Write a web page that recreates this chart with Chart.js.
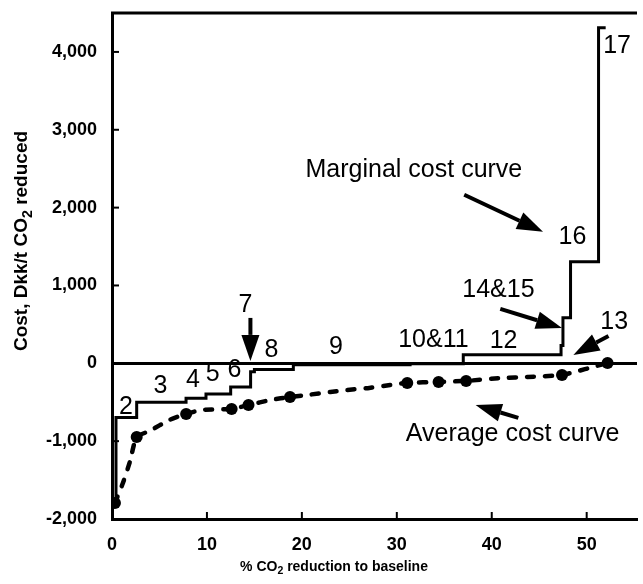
<!DOCTYPE html>
<html>
<head>
<meta charset="utf-8">
<script src="https://cdn.jsdelivr.net/npm/chart.js@4.4.1/dist/chart.umd.min.js"></script>
<style>
  html, body { margin: 0; padding: 0; background: #fff; }
  #wrap { width: 643px; height: 584px; position: relative; }
</style>
</head>
<body>
<div id="wrap"><canvas id="costChart"></canvas></div>
<script>
// Measures sorted by cost: where each one ends (cumulative % reduction) and its marginal cost
const measureLabels = ['1', '2', '3', '4', '5', '6', '7', '8', '9', '10&11', '12', '13', '14&15', '16', '17'];
const measureEnd = [0.42, 2.6, 7.8, 9.9, 12.5, 14.6, 15.0, 19.1, 31.4, 37.0, 47.3, 47.5, 48.3, 51.25, 52.0];
const marginalCost = [-1800, -695, -500, -450, -395, -305, -110, -80, -20, -5, 110, 230, 585, 1305, 4310];

// Average cost curve
const avgReduction = [0.31, 1.15, 1.88, 2.6, 3.96, 6.04, 7.81, 9.48, 12.6, 14.38, 16.77, 18.75, 20.6, 23.0, 24.8, 27.1, 29.3, 31.1, 34.4, 37.3, 41.1, 43.8, 47.4, 52.2];
const avgCost = [-1794, -1537, -1267, -946, -869, -728, -650, -599, -586, -535, -470, -432, -406, -368, -342, -316, -278, -252, -239, -226, -188, -175, -149, 5];
const avgDotIndex = [0, 3, 6, 8, 9, 11, 17, 18, 19, 22, 23];

const xTicks = [0, 10, 20, 30, 40, 50];
const yTicks = [-2000, -1000, 0, 1000, 2000, 3000, 4000];

// build the step outline from the measures
const stepPoints = [];
let start = 0;
measureEnd.forEach((end, i) => {
    stepPoints.push({ x: start, y: marginalCost[i] }, { x: end, y: marginalCost[i] });
    start = end;
});
const avgPoints = avgReduction.map((x, i) => ({ x: x, y: avgCost[i] }));

// text labels and arrows, in data units
const notes = [
    { text: '2', x: 1.46, y: -560 },
    { text: '3', x: 5.1, y: -290 },
    { text: '4', x: 8.54, y: -213 },
    { text: '5', x: 10.6, y: -136 },
    { text: '6', x: 12.9, y: -85 },
    { text: '7', x: 14.06, y: 751 },
    { text: '8', x: 16.8, y: 172 },
    { text: '9', x: 23.6, y: 211 },
    { text: '10&11', x: 33.85, y: 301 },
    { text: '12', x: 41.25, y: 288 },
    { text: '13', x: 52.9, y: 532 },
    { text: '14&15', x: 40.7, y: 943 },
    { text: '16', x: 48.5, y: 1625 },
    { text: '17', x: 53.2, y: 4076 },
    { text: 'Marginal cost curve', x: 31.8, y: 2486 },
    { text: 'Average cost curve', x: 42.2, y: -907 }
];
const arrows = [
    { from: [14.58, 583], to: [14.58, 31] },
    { from: [37.1, 2165], to: [45.4, 1689] },
    { from: [40.9, 699], to: [47.4, 455] },
    { from: [52.3, 352], to: [48.6, 108] },
    { from: [42.8, -702], to: [38.3, -535] }
];

const FONT = '"Liberation Sans", Arial, sans-serif';

function drawSubText(ctx, parts, x, y, size) {
    // parts: [text, isSubscript]
    let total = 0;
    parts.forEach(p => {
        ctx.font = 'bold ' + (p[1] ? size * 0.75 : size) + 'px ' + FONT;
        total += ctx.measureText(p[0]).width;
    });
    let cx = x - total / 2;
    parts.forEach(p => {
        ctx.font = 'bold ' + (p[1] ? size * 0.75 : size) + 'px ' + FONT;
        ctx.fillText(p[0], cx, p[1] ? y + size * 0.3 : y);
        cx += ctx.measureText(p[0]).width;
    });
}

const decorations = {
    id: 'decorations',
    afterDraw(chart) {
        const { ctx, chartArea, scales: { x, y } } = chart;
        ctx.save();
        ctx.strokeStyle = '#000';
        ctx.fillStyle = '#000';

        // top frame line
        ctx.lineWidth = 3;
        ctx.beginPath();
        ctx.moveTo(chartArea.left - 1, chartArea.top);
        ctx.lineTo(chartArea.right, chartArea.top);
        ctx.stroke();

        // inward tick marks
        ctx.lineWidth = 2;
        xTicks.forEach(v => {
            const px = x.getPixelForValue(v);
            ctx.beginPath();
            ctx.moveTo(px, chartArea.bottom);
            ctx.lineTo(px, chartArea.bottom - 7);
            ctx.stroke();
        });
        yTicks.forEach(v => {
            const py = y.getPixelForValue(v);
            ctx.beginPath();
            ctx.moveTo(chartArea.left, py);
            ctx.lineTo(chartArea.left + 7, py);
            ctx.stroke();
        });

        // labels on the curves
        ctx.font = '25px ' + FONT;
        ctx.textAlign = 'center';
        ctx.textBaseline = 'middle';
        notes.forEach(n => {
            ctx.fillText(n.text, x.getPixelForValue(n.x), y.getPixelForValue(n.y));
        });

        // arrows
        arrows.forEach(a => {
            const x0 = x.getPixelForValue(a.from[0]), y0 = y.getPixelForValue(a.from[1]);
            const x1 = x.getPixelForValue(a.to[0]), y1 = y.getPixelForValue(a.to[1]);
            const ang = Math.atan2(y1 - y0, x1 - x0);
            const headLen = 26, headW = 9;
            const bx = x1 - headLen * Math.cos(ang), by = y1 - headLen * Math.sin(ang);
            ctx.lineWidth = 4;
            ctx.beginPath();
            ctx.moveTo(x0, y0);
            ctx.lineTo(bx, by);
            ctx.stroke();
            ctx.beginPath();
            ctx.moveTo(x1, y1);
            ctx.lineTo(bx + headW * Math.sin(ang), by - headW * Math.cos(ang));
            ctx.lineTo(bx - headW * Math.sin(ang), by + headW * Math.cos(ang));
            ctx.closePath();
            ctx.fill();
        });

        // axis titles
        ctx.textBaseline = 'middle';
        ctx.textAlign = 'left';
        drawSubText(ctx, [['% CO', false], ['2', true], [' reduction to baseline', false]], 334, 567, 14);
        ctx.save();
        ctx.translate(22, 241);
        ctx.rotate(-Math.PI / 2);
        drawSubText(ctx, [['Cost, Dkk/t CO', false], ['2', true], [' reduced', false]], 0, 0, 19);
        ctx.restore();

        ctx.restore();
    }
};

new Chart(document.getElementById('costChart').getContext('2d'), {
    type: 'line',
    data: {
        datasets: [
            {
                label: 'Marginal cost curve',
                data: stepPoints,
                borderColor: '#000',
                borderWidth: 3,
                pointRadius: 0,
                fill: false,
                tension: 0
            },
            {
                label: 'Average cost curve',
                data: avgPoints,
                borderColor: '#000',
                backgroundColor: '#000',
                borderWidth: 4.5,
                borderDash: [7, 11],
                borderCapStyle: 'round',
                pointRadius: ctx => avgDotIndex.includes(ctx.dataIndex) ? 6 : 0,
                pointBorderWidth: 0,
                fill: false,
                tension: 0.2
            }
        ]
    },
    options: {
        responsive: true,
        maintainAspectRatio: false,
        animation: false,
        layout: { padding: { top: 13, right: 0, left: 0, bottom: 0 } },
        plugins: {
            legend: { display: false },
            tooltip: { enabled: false }
        },
        scales: {
            x: {
                type: 'linear',
                min: 0,
                max: 55.3,
                afterBuildTicks: scale => { scale.ticks = xTicks.map(v => ({ value: v })); },
                afterFit: scale => { scale.height = 65; scale.paddingLeft = 0; scale.paddingRight = 0; },
                grid: { display: false },
                border: { display: true, color: '#000', width: 3 },
                ticks: {
                    color: '#000',
                    padding: 7,
                    maxRotation: 0,
                    font: { family: FONT, size: 18, weight: 'bold' }
                }
            },
            y: {
                min: -2000,
                max: 4500,
                afterBuildTicks: scale => { scale.ticks = yTicks.map(v => ({ value: v })); },
                afterFit: scale => { scale.width = 112; scale.paddingTop = 0; scale.paddingBottom = 0; },
                grid: {
                    drawTicks: false,
                    color: ctx => ctx.tick && ctx.tick.value === 0 ? '#000' : 'rgba(0,0,0,0)',
                    lineWidth: ctx => ctx.tick && ctx.tick.value === 0 ? 3 : 0
                },
                border: { display: true, color: '#000', width: 3 },
                ticks: {
                    color: '#000',
                    padding: 15,
                    font: { family: FONT, size: 18, weight: 'bold' },
                    callback: v => v.toLocaleString('en-US')
                }
            }
        }
    },
    plugins: [decorations]
});
</script>
</body>
</html>
